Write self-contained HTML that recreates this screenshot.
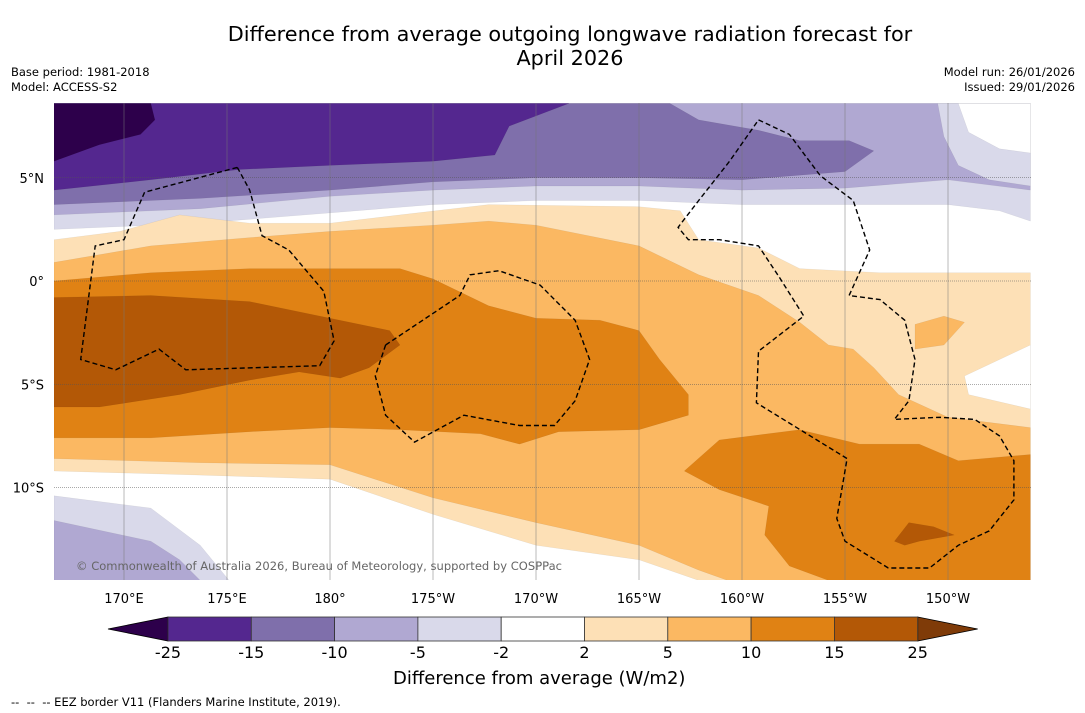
<!DOCTYPE html>
<html><head><meta charset="utf-8">
<style>
body{margin:0;background:#fff;font-family:"DejaVu Sans","Liberation Sans",sans-serif;}
#wrap{position:relative;width:1085px;height:713px;overflow:hidden;background:#fff}
.t{position:absolute;white-space:nowrap;color:#000}
</style></head>
<body>
<div id="wrap">
<div class="t" style="left:0;width:1140px;text-align:center;top:22px;font-size:20.8px;line-height:24px">Difference from average outgoing longwave radiation forecast for<br>April 2026</div>
<div class="t" style="left:11px;top:65px;font-size:11.5px;line-height:15px">Base period: 1981-2018<br>Model: ACCESS-S2</div>
<div class="t" style="right:10px;top:65px;font-size:11.5px;line-height:15px;text-align:right">Model run: 26/01/2026<br>Issued: 29/01/2026</div>
<svg id="svg" width="1085" height="713" style="position:absolute;left:0;top:0"></svg>
<div class="t" style="left:393px;top:668px;font-size:18px">Difference from average (W/m2)</div>
<div class="t" style="left:11px;top:695px;font-size:11.5px">--&nbsp; --&nbsp; -- EEZ border V11 (Flanders Marine Institute, 2019).</div>
</div>
<script>
const lonTicks=[170,175,180,185,190,195,200,205,210];
const lonLabels=["170°E","175°E","180°","175°W","170°W","165°W","160°W","155°W","150°W"];
const latTicks=[5,0,-5,-10];
const latLabels=["5°N","0°","5°S","10°S"];
const cbLevels=["-25","-15","-10","-5","-2","2","5","10","15","25"];
const cbColors=["#54278f","#7f6fab","#b0a8d2","#d9d9ea","#ffffff","#fde0b6","#fbb862","#e08214","#b35806"];
const cbUnder="#2d004b", cbOver="#7f3b08";
const bandLightPurple=[[166.6,8.6],[214,8.6],[214,2.9],[212.5,3.4],[210,3.7],[205,3.7],[200,3.7],[195,3.9],[190,3.9],[185,3.7],[180,3.3],[173.7,2.8],[166.6,2.5]];
const bandMidPurple=[[166.6,8.6],[214,8.6],[214,4.4],[210,4.9],[205,4.5],[200,4.4],[195,4.6],[190,4.6],[185,4.4],[180,4.1],[173.7,3.5],[166.6,3.2]];
const bandTopRightLight=[[209.5,8.6],[214,8.6],[214,4.6],[212,4.9],[210.5,5.6],[209.8,7.0]];
const bandTopRightWhite=[[210.5,8.6],[214,8.6],[214,6.2],[212.5,6.4],[211,7.2]];
const bandPurple=[[166.6,8.6],[196.5,8.6],[197.9,7.8],[200.8,7.3],[202.8,6.8],[205.2,6.8],[206.4,6.3],[205,5.3],[200,4.9],[195,5.0],[190,5.0],[185,4.8],[180,4.4],[173.7,4.0],[166.6,3.7]];
const bandDarkPurple=[[166.6,8.6],[191.6,8.6],[188.7,7.5],[188,6.1],[185,5.8],[180,5.6],[175.6,5.4],[171.3,4.9],[166.6,4.4]];
const bandDarkest=[[166.6,8.6],[171.3,8.6],[171.5,7.8],[170.8,7.1],[168.8,6.6],[166.6,5.8]];
const bandLightOrange=[[166.6,2.0],[169.8,2.4],[172.7,3.2],[176.1,2.8],[180,2.8],[183.4,3.2],[187.7,3.7],[195,3.6],[197,3.4],[197.9,2.0],[200.8,1.6],[202.8,0.6],[206.7,0.4],[214,0.4],[214,-14.5],[197.9,-14.5],[195,-13.5],[190,-12.8],[185,-11.3],[180,-9.6],[173.7,-9.4],[166.6,-9.2]];
const bandWhiteRight=[[214,-3.1],[210.8,-4.6],[211,-5.5],[214,-6.2]];
const bandOrange=[[166.6,0.9],[171.3,1.7],[176.1,2.1],[180,2.4],[185,2.7],[187.7,2.9],[190,2.7],[195,1.7],[197.9,0.3],[200.8,-0.7],[202.8,-2.0],[204.2,-3.1],[205.4,-3.3],[206.4,-4.2],[207.6,-5.5],[210,-6.6],[214,-7.1],[214,-14.5],[199.3,-14.5],[197.9,-14.0],[195,-12.8],[190,-11.7],[185,-10.5],[180,-8.9],[173.7,-8.8],[166.6,-8.6]];
const bandOrangeBlob=[[208.4,-2.1],[209.8,-1.7],[210.8,-2.0],[209.8,-3.1],[208.4,-3.3]];
const bandDarkOrange1=[[166.6,0.0],[171.3,0.4],[176.1,0.6],[183.4,0.6],[185,0.1],[187.7,-1.2],[190,-1.8],[193.1,-1.9],[195,-2.4],[196,-3.8],[197.4,-5.5],[197.4,-6.5],[195,-7.2],[191.1,-7.3],[189.2,-7.9],[187.3,-7.4],[183.4,-7.2],[180,-7.1],[176.1,-7.3],[171.3,-7.6],[166.6,-7.6]];
const bandDarkOrange2=[[197.2,-9.2],[198.9,-7.7],[202.8,-7.2],[205.7,-7.9],[208.6,-7.9],[210.5,-8.7],[214,-8.4],[214,-14.5],[204.2,-14.5],[202.3,-13.8],[201.1,-12.3],[201.3,-10.9],[198.9,-10.1]];
const bandBrown1=[[166.6,-0.8],[171.3,-0.7],[176.1,-1.0],[180,-1.8],[182.9,-2.4],[183.4,-3.1],[181.9,-4.2],[180.5,-4.7],[178.5,-4.4],[176.1,-4.8],[172.7,-5.5],[168.8,-6.1],[166.6,-6.1]];
const bandBrown2=[[207.4,-12.6],[208.1,-11.7],[209.3,-11.9],[210.3,-12.3],[208.6,-12.6],[207.9,-12.8]];
const bandBLLight=[[166.6,-10.4],[171.3,-11],[173.7,-12.8],[175.1,-14.5],[166.6,-14.5]];
const bandBLMid=[[166.6,-11.6],[171.3,-12.6],[172.7,-13.5],[173.7,-14.5],[166.6,-14.5]];
const eezLeft=[[175.5,5.5],[171,4.3],[170,2.0],[168.6,1.7],[167.9,-3.8],[169.6,-4.3],[171.7,-3.3],[173,-4.3],[179.5,-4.1],[180.2,-2.9],[179.7,-0.5],[178,1.5],[176.7,2.2],[176.1,4.4],[175.5,5.5]];
const eezCenter=[[182.7,-3.1],[186.3,-0.7],[186.8,0.3],[188.2,0.5],[190.2,-0.2],[191.9,-1.9],[192.6,-3.8],[191.9,-5.8],[190.9,-7.0],[189.2,-7.0],[186.5,-6.5],[184.1,-7.8],[182.7,-6.5],[182.2,-4.6],[182.7,-3.1]];
const eezRight=[[200.8,7.8],[202.3,7.1],[203.8,5.1],[205.4,3.9],[206.2,1.5],[205.2,-0.7],[206.7,-0.9],[207.9,-1.9],[208.4,-3.8],[208.1,-5.8],[207.4,-6.7],[209.6,-6.6],[211.3,-6.7],[212.5,-7.5],[213.2,-8.7],[213.2,-10.6],[212,-12.1],[210.5,-12.8],[209.1,-13.9],[207.1,-13.9],[205,-12.6],[204.6,-11.5],[205.1,-8.6],[200.7,-5.9],[200.8,-3.4],[203,-1.7],[201.8,0.2],[200.8,1.7],[198.9,2.0],[197.4,2.0],[196.9,2.6],[197.9,3.9],[199.4,5.8],[200.8,7.8]];

const NS="http://www.w3.org/2000/svg";
const svg=document.getElementById('svg');
const X=lon=>124+(lon-170)*20.6;
const Y=lat=>281-lat*20.65;
function mk(tag,attrs,parent){const e=document.createElementNS(NS,tag);for(const k in attrs)e.setAttribute(k,attrs[k]);(parent||svg).appendChild(e);return e;}
const pts=a=>a.map(p=>X(p[0]).toFixed(1)+','+Y(p[1]).toFixed(1)).join(' ');
const cp0=mk('clipPath',{id:'mc'});
mk('rect',{x:54,y:103,width:977,height:477},cp0);
const g=mk('g',{'clip-path':'url(#mc)'});


mk('rect',{x:54,y:103,width:977,height:477,fill:'#fff'},g);
const layers=[
 [bandLightPurple,3,'band-minus5'],[bandMidPurple,2,'band-minus10'],[bandTopRightLight,3,'band-minus5-ne'],[bandTopRightWhite,4,'band-neutral-ne'],
 [bandPurple,1,'band-minus15'],[bandDarkPurple,0,'band-minus25'],[bandDarkest,-1,'band-below-minus25'],
 [bandLightOrange,5,'band-plus2'],[bandWhiteRight,4,'band-neutral-east'],[bandOrange,6,'band-plus5'],[bandOrangeBlob,6,'band-plus5-blob'],
 [bandDarkOrange1,7,'band-plus10-west'],[bandDarkOrange2,7,'band-plus10-east'],[bandBrown1,8,'band-plus15-west'],[bandBrown2,8,'band-plus15-east'],
 [bandBLLight,3,'band-minus5-sw'],[bandBLMid,2,'band-minus10-sw']];
layers.forEach(L=>{const p=mk('polygon',{points:pts(L[0]),fill:L[1]<0?cbUnder:cbColors[L[1]],stroke:'rgba(0,0,0,0.08)','stroke-width':0.5},g);
 
 });
lonTicks.forEach((lon,i)=>{const l=mk('line',{x1:X(lon),x2:X(lon),y1:103,y2:580,stroke:'#777','stroke-width':0.5},g);
 
 
 const t=mk('text',{x:X(lon),y:603,'text-anchor':'middle','font-size':13,'font-family':'DejaVu Sans, sans-serif'});t.textContent=lonLabels[i];
 
 });
latTicks.forEach((lat,i)=>{const l=mk('line',{x1:54,x2:1031,y1:Y(lat),y2:Y(lat),stroke:'#555','stroke-width':0.6,'stroke-dasharray':'1,1'},g);
 
 
 const t=mk('text',{x:44,y:Y(lat)+5,'text-anchor':'end','font-size':13,'font-family':'DejaVu Sans, sans-serif'});t.textContent=latLabels[i];
 
 });
[eezLeft,eezCenter,eezRight].forEach(a=>{const p=mk('polyline',{points:pts(a),fill:'none',stroke:'#000','stroke-width':1.4,'stroke-dasharray':'5,3'},g);
 
 });
const cp=mk('text',{x:76,y:570,'font-size':11.5,fill:'#666','font-family':'DejaVu Sans, sans-serif',textLength:486});cp.textContent='© Commonwealth of Australia 2026, Bureau of Meteorology, supported by COSPPac';


const cbX0=168,cbW=83.3,cbY=617,cbH=24;
const under=mk('polygon',{points:`${cbX0},${cbY} ${cbX0-60},${cbY+cbH/2} ${cbX0},${cbY+cbH}`,fill:cbUnder,stroke:'#000','stroke-width':0.8});


const xe=cbX0+cbW*cbColors.length;
const over=mk('polygon',{points:`${xe},${cbY} ${xe+60},${cbY+cbH/2} ${xe},${cbY+cbH}`,fill:cbOver,stroke:'#000','stroke-width':0.8});


cbColors.forEach((c,i)=>{const r=mk('rect',{x:cbX0+i*cbW,y:cbY,width:cbW,height:cbH,fill:c,stroke:'#333','stroke-width':0.8});
 
 });
cbLevels.forEach((lv,i)=>{const t=mk('text',{x:cbX0+i*cbW,y:658,'text-anchor':'middle','font-size':16,'font-family':'DejaVu Sans, sans-serif'});t.textContent=lv;
 
 });
</script>
</body></html>
